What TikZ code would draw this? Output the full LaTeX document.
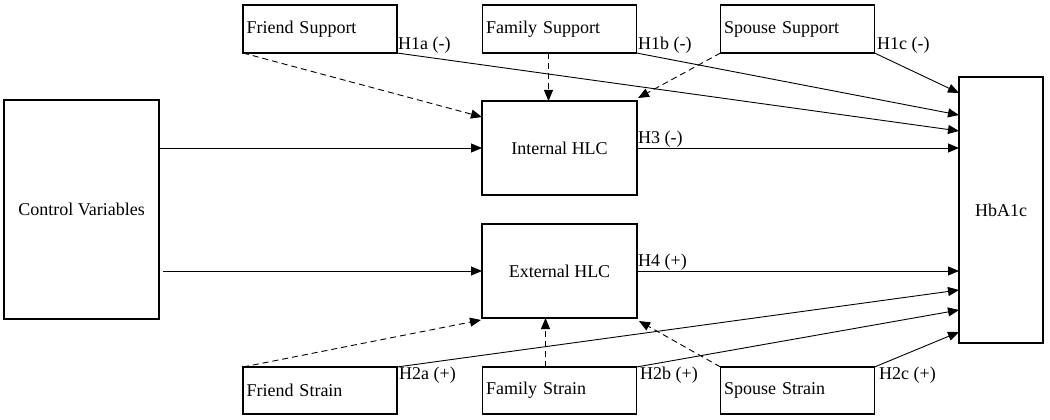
\documentclass[tikz,border=0pt]{standalone}
\usepackage{fontspec}
\setmainfont{Liberation Serif}
\usetikzlibrary{arrows.meta,calc}
\begin{document}
\begin{tikzpicture}[x=1pt,y=-1pt,
  box/.style={draw,line width=1.3pt,rectangle,inner sep=0pt,outer sep=0pt,font=\fontsize{18}{21}\selectfont},
  lbox/.style={box,minimum width=154pt,minimum height=48pt,text width=147pt,align=left},
  lab/.style={font=\fontsize{18}{21}\selectfont,inner sep=0pt,anchor=base west},
  arr/.style={line width=0.9pt,-{Triangle[length=11pt,width=9pt]}},
  darr/.style={arr,dash pattern=on 6pt off 4pt}]
\useasboundingbox (0,0) rectangle (1050,420);
% boxes
\node[box,minimum width=155pt,minimum height=219pt] (cv) at (81.5,209.5) {Control Variables};
\node[lbox] (fs) at (320,29) {Friend Support};
\node[lbox] (fams) at (559.5,29) {Family Support};
\node[lbox] (ss) at (797.5,29) {Spouse Support};
\node[box,minimum width=155pt,minimum height=94pt] (ih) at (559.5,148) {Internal HLC};
\node[box,minimum width=155pt,minimum height=94pt] (eh) at (559.5,271) {External HLC};
\node[box,minimum width=84pt,minimum height=266pt] (hb) at (1001,210) {HbA1c};
\node[lbox,minimum height=47pt] (fst) at (320,390.5) {Friend Strain};
\node[lbox,minimum height=47pt] (famst) at (559.5,390.5) {Family Strain};
\node[lbox,minimum height=47pt] (sst) at (797.5,390.5) {Spouse Strain};
% control arrows
\draw[arr] ([xshift=1pt]cv.east |- ih.west) -- (ih.west);
\draw[arr] ([xshift=4pt]cv.east |- eh.west) -- (eh.west);
% dashed to HLC
\draw[darr] (fs.south west) -- ($(ih.north west)+(0,16)$);
\draw[darr] ($(fams.south)+(-11,0)$) -- ($(ih.north)+(-11,0)$);
\draw[darr] (ss.south west) -- ($(ih.north east)+(1,-3)$);
\draw[darr] (fst.north west) -- ($(eh.south west)+(-1,2)$);
\draw[darr] ($(famst.north)+(-14,0)$) -- ($(eh.south)+(-14,0)$);
\draw[darr] (sst.north west) -- ($(eh.south east)+(2,3)$);
% solid to HbA1c
\draw[arr] (fs.south east) -- ($(hb.north west)+(0,54)$);
\draw[arr] (fams.south east) -- ($(hb.north west)+(0,38)$);
\draw[arr] (ss.south east) -- ($(hb.north west)+(0,16)$);
\draw[arr] (ih.east) -- (hb.west |- ih.east);
\draw[arr] (eh.east) -- (hb.west |- eh.east);
\draw[arr] (fst.north east) -- ($(hb.south west)+(0,-53)$);
\draw[arr] (famst.north east) -- ($(hb.south west)+(0,-33)$);
\draw[arr] (sst.north east) -- ($(hb.south west)+(0,-11)$);
% labels
\node[lab] (l1a) at (398,50) {H1a (-)};
\node[lab] (l1b) at (638,50) {H1b (-)};
\node[lab] (l1c) at (877,50) {H1c (-)};
\node[lab] (l3) at (638,143) {H3 (-)};
\node[lab] (l4) at (638,266) {H4 (+)};
\node[lab] (l2a) at (399,379) {H2a (+)};
\node[lab] (l2b) at (640,379) {H2b (+)};
\node[lab] (l2c) at (879,379) {H2c (+)};
\end{tikzpicture}
\end{document}
